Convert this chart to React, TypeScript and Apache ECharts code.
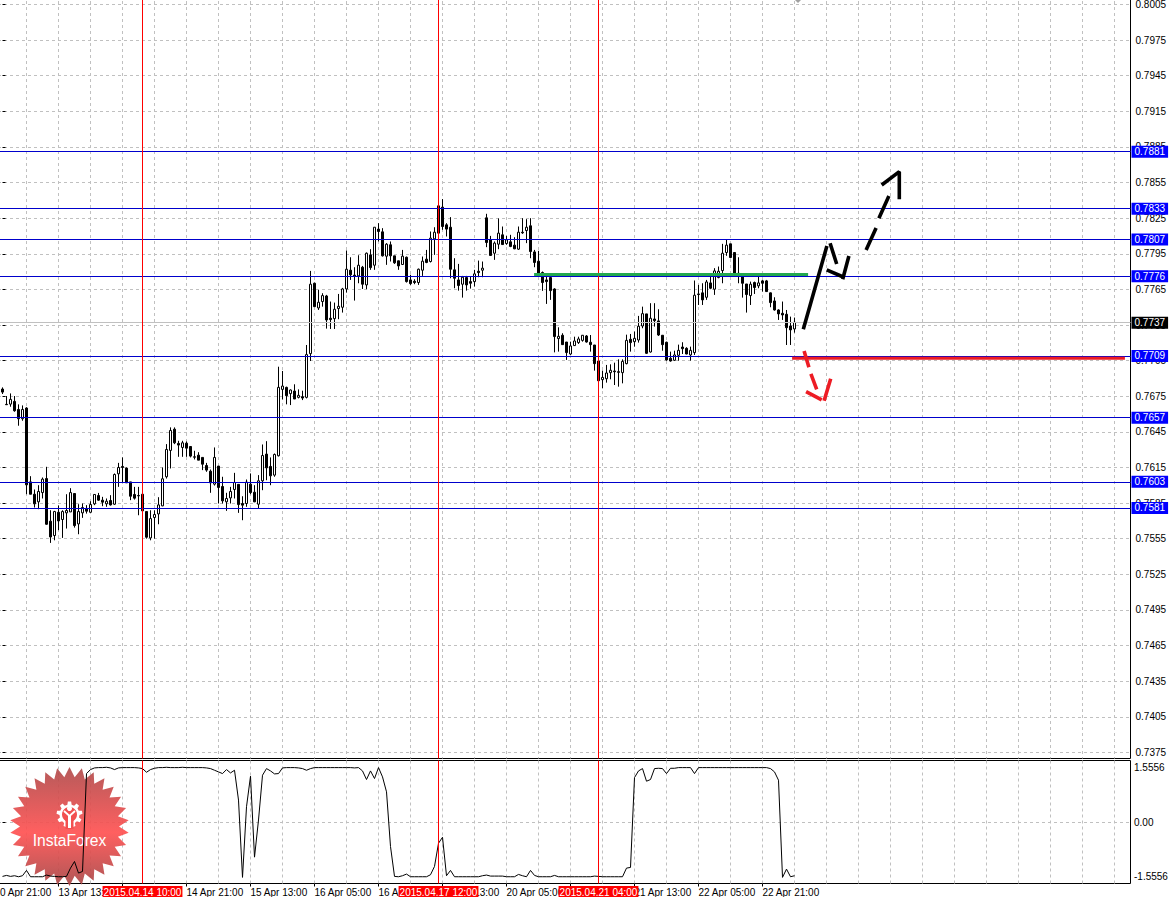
import React, { useEffect, useRef } from "react";
import * as echarts from "echarts";

// hourly candles, index 0 = 10 Apr 23:00; [open, close, low, high]
const candles: number[][] = [
[.76803,.76777,.76761,.76817],[.76674,.76671,.76671,.76744],[.76676,.76716,.76654,.76766],[.76699,.76620,.76612,.76744],[.76631,.76553,.76494,.76674],
[.76553,.76631,.76536,.76665],[.76643,.75996,.75917,.76650],[.76021,.75917,.75917,.76069],[.75917,.75836,.75805,.75957],[.75853,.75940,.75791,.75993],
[.75931,.76044,.75881,.76058],[.76049,.75664,.75659,.76148],[.75690,.75557,.75507,.75782],[.75569,.75771,.75529,.75777],[.75765,.75692,.75614,.75822],
[.75704,.75771,.75549,.75782],[.75760,.75780,.75628,.75917],[.75768,.75931,.75768,.75968],[.75923,.75653,.75636,.75923],[.75667,.75771,.75580,.75833],
[.75760,.75805,.75718,.75839],[.75797,.75774,.75754,.75825],[.75765,.75830,.75760,.75858],[.75836,.75915,.75825,.75917],[.75906,.75867,.75861,.75928],
[.75867,.75850,.75816,.75895],[.75836,.75858,.75811,.75881],[.75864,.75827,.75822,.75909],[.75833,.76083,.75827,.76092],[.76089,.76142,.75979,.76181],
[.76151,.76142,.76013,.76227],[.76137,.76013,.76013,.76142],[.76021,.75900,.75867,.76021],[.75915,.75884,.75872,.75979],[.75906,.75903,.75740,.75979],
[.75917,.75777,.75777,.75917],[.75771,.75555,.75543,.75771],[.75549,.75712,.75529,.75782],[.75721,.75746,.75543,.75782],[.75751,.75827,.75664,.75892],
[.75819,.76047,.75816,.76142],[.76064,.76294,.76049,.76339],[.76286,.76454,.76134,.76480],[.76465,.76350,.76339,.76480],[.76345,.76331,.76232,.76367],
[.76311,.76350,.76232,.76367],[.76347,.76305,.76232,.76361],[.76319,.76238,.76227,.76322],[.76232,.76229,.76210,.76283],[.76246,.76204,.76204,.76271],
[.76227,.76170,.76120,.76227],[.76159,.76120,.76106,.76181],[.76111,.76013,.75929,.76125],[.76002,.76227,.75990,.76311],[.76154,.75974,.75839,.76154],
[.75982,.75861,.75839,.76064],[.75853,.75881,.75777,.75929],[.75886,.75940,.75839,.75979],[.75957,.76016,.75881,.76097],[.76000,.75830,.75760,.76000],
[.75839,.75825,.75698,.75900],[.75839,.76019,.75811,.76041],[.76002,.75931,.75917,.76092],[.75934,.75853,.75850,.75993],[.75833,.76030,.75797,.76078],
[.76030,.76243,.75951,.76336],[.76255,.76139,.76035,.76364],[.76151,.76072,.75993,.76227],[.76078,.76252,.76064,.76260],[.76241,.76817,.76235,.76991],
[.76800,.76828,.76716,.76955],[.76817,.76747,.76674,.76823],[.76764,.76795,.76668,.76800],[.76786,.76719,.76719,.76843],[.76733,.76750,.76724,.76800],
[.76739,.76727,.76710,.76789],[.76733,.77093,.76724,.77174],[.77101,.77686,.77039,.77798],[.77694,.77497,.77497,.77700],[.77486,.77534,.77469,.77638],
[.77540,.77590,.77497,.77610],[.77587,.77385,.77312,.77596],[.77399,.77388,.77309,.77540],[.77396,.77475,.77309,.77531],[.77481,.77500,.77391,.77604],
[.77492,.77646,.77447,.77655],[.77646,.77812,.77615,.77970],[.77804,.77765,.77722,.77913],[.77762,.77756,.77548,.77829],[.77756,.77846,.77694,.77930],
[.77829,.77686,.77646,.77840],[.77680,.77947,.77644,.77953],[.77933,.77826,.77807,.77981],[.77846,.78166,.77807,.78166],[.78150,.78130,.78046,.78200],
[.78127,.77925,.77919,.78158],[.77922,.78023,.77849,.78032],[.78018,.77925,.77877,.78046],[.77925,.77866,.77857,.77925],[.77883,.77840,.77807,.77885],
[.77852,.77922,.77849,.77975],[.77913,.77708,.77700,.77919],[.77722,.77691,.77680,.77765],[.77711,.77700,.77686,.77728],[.77700,.77812,.77680,.77818],
[.77804,.77880,.77756,.77919],[.77897,.77869,.77863,.77975],[.77877,.78074,.77869,.78130],[.78068,.78124,.77933,.78166],[.78346,.78116,.78116,.78346],
[.78335,.78172,.78144,.78403],[.78186,.78150,.78088,.78200],[.78166,.77812,.77736,.78251],[.77807,.77736,.77652,.77905],[.77722,.77675,.77632,.77857],
[.77686,.77745,.77573,.77756],[.77742,.77680,.77632,.77756],[.77708,.77694,.77649,.77750],[.77708,.77773,.77666,.77807],[.77795,.77784,.77745,.77885],
[.77804,.77821,.77745,.77877],[.78245,.78037,.77998,.78279],[.78060,.77928,.77925,.78093],[.77947,.78032,.77891,.78046],[.78023,.78116,.77981,.78240],
[.78102,.78020,.78018,.78172],[.78029,.78060,.78018,.78093],[.78043,.78004,.77998,.78102],[.78015,.77984,.77981,.78082],[.77981,.78124,.77975,.78172],
[.78124,.78119,.78110,.78242],[.78138,.78166,.78032,.78234],[.78178,.77961,.77905,.78242],[.77958,.77869,.77829,.77975],[.77880,.77779,.77750,.77967],
[.77784,.77700,.77630,.77793],[.77722,.77708,.77520,.77779],[.77742,.77632,.77554,.77750],[.77646,.77245,.77112,.77652],[.77228,.77247,.77118,.77323],
[.77256,.77177,.77174,.77273],[.77199,.77110,.77048,.77199],[.77098,.77166,.77090,.77202],[.77169,.77208,.77166,.77244],[.77194,.77225,.77183,.77244],
[.77213,.77256,.77202,.77258],[.77250,.77199,.77194,.77258],[.77197,.77177,.77118,.77258],[.77174,.77017,.76958,.77174],[.77039,.76873,.76873,.77090],
[.76882,.76901,.76809,.76958],[.76890,.76938,.76857,.77006],[.76941,.76961,.76885,.77011],[.76955,.76949,.76837,.77025],[.76949,.76944,.76823,.77053],
[.76941,.77036,.76851,.77053],[.77017,.77213,.77011,.77261],[.77222,.77194,.77118,.77267],[.77202,.77230,.77160,.77287],[.77216,.77332,.77194,.77419],
[.77334,.77438,.77315,.77497],[.77436,.77104,.77098,.77436],[.77115,.77399,.77110,.77526],[.77393,.77379,.77329,.77526],[.77377,.77258,.77250,.77475],
[.77256,.77177,.77126,.77258],[.77197,.77048,.77042,.77202],[.77062,.77039,.77034,.77118],[.77045,.77090,.77039,.77126],[.77087,.77129,.77042,.77177],
[.77157,.77143,.77098,.77197],[.77146,.77098,.77096,.77155],[.77090,.77129,.77042,.77160],[.77110,.77593,.77090,.77717],[.77604,.77599,.77511,.77680],
[.77613,.77554,.77511,.77694],[.77576,.77705,.77554,.77722],[.77697,.77652,.77644,.77764],[.77644,.77798,.77596,.77821],[.77742,.77795,.77736,.77835],
[.77801,.77947,.77694,.78026],[.77953,.78015,.77925,.78065],[.78026,.77911,.77905,.78026],[.77953,.77764,.77756,.77953],[.77778,.77756,.77694,.77913],
[.77756,.77694,.77573,.77764],[.77688,.77599,.77447,.77688],[.77590,.77686,.77511,.77708],[.77700,.77658,.77604,.77708],[.77672,.77697,.77652,.77750],
[.77714,.77694,.77624,.77722],[.77714,.77624,.77621,.77722],[.77613,.77531,.77492,.77616],[.77545,.77469,.77464,.77576],[.77469,.77436,.77385,.77475],
[.77441,.77427,.77385,.77540],[.77433,.77320,.77174,.77469],[.77334,.77301,.77174,.77413],[.77309,.77365,.77278,.77405],
];
// correction of the pixel readings above against the price scale
const readingOffset = 0.00008;

const oscillator: number[] = [
-1.547,-1.519,-1.547,-1.528,-1.557,-1.528,-1.377,-1.557,-1.557,-1.557,
-1.557,-1.509,-1.538,-1.547,-1.557,-1.557,-1.547,-1.311,-1.123,-1.453,
-1.406,1.377,1.491,1.538,1.547,1.547,1.556,1.538,1.491,1.538,
1.547,1.547,1.547,1.547,1.538,1.519,1.415,1.491,1.528,1.547,
1.547,1.556,1.547,1.547,1.547,1.556,1.547,1.547,1.547,1.547,
1.547,1.538,1.519,1.472,1.425,1.377,1.491,1.396,1.472,0.623,
-1.575,0.434,1.302,-1,0.057,1.33,1.519,1.453,1.368,1.377,
1.538,1.547,1.547,1.547,1.538,1.519,1.472,1.519,1.547,1.547,
1.547,1.547,1.547,1.547,1.547,1.547,1.547,1.547,1.538,1.547,
1.453,1.208,1.453,1.236,1.547,1.283,0.858,-0.698,-1.547,-1.557,
-1.528,-1.481,-1.557,-1.557,-1.557,-1.557,-1.557,-1.5,-1.264,-0.604,
-0.434,-1.528,-1.377,-1.557,-1.557,-1.557,-1.557,-1.557,-1.557,-1.557,
-1.528,-1.509,-1.538,-1.538,-1.538,-1.538,-1.557,-1.557,-1.557,-1.491,
-1.528,-1.557,-1.377,-1.519,-1.557,-1.557,-1.557,-1.557,-1.519,-1.557,
-1.557,-1.557,-1.557,-1.557,-1.557,-1.557,-1.557,-1.557,-1.538,-1.547,
-1.557,-1.557,-1.557,-1.557,-1.557,-1.557,-1.311,-1.292,1.264,1.453,
1.519,1.16,1.208,1.519,1.528,1.519,1.377,1.528,1.528,1.547,
1.547,1.547,1.547,1.377,1.547,1.547,1.547,1.547,1.547,1.547,
1.547,1.547,1.547,1.547,1.547,1.547,1.547,1.547,1.547,1.547,
1.547,1.547,1.519,1.425,1.189,-1.575,-1.34,-1.557,-1.528,
];

const priceTicks = [0.8005,0.7975,0.7945,0.7915,0.7885,0.7855,0.7825,0.7795,0.7765,0.7735,0.7705,0.7675,0.7645,0.7615,0.7585,0.7555,0.7525,0.7495,0.7465,0.7435,0.7405,0.7375];
const oscillatorTicks = [1.5556, 0, -1.5556];

const levels = [0.7881, 0.7833, 0.7807, 0.7776, 0.7709, 0.7657, 0.7603, 0.7581];
const lastPrice = 0.7737;

const timeTickIndexes = [-2,14,30,46,62,78,94,110,126,142,158,174,190];
const timeTickLabels = ["10 Apr 21:00","13 Apr 13:00","14 Apr 05:00","14 Apr 21:00","15 Apr 13:00","16 Apr 05:00","16 Apr 21:00","17 Apr 13:00","20 Apr 05:00","20 Apr 21:00","21 Apr 13:00","22 Apr 05:00","22 Apr 21:00"];
const gridIndexes = [6,22,38,54,70,86,102,118,134,150,166,182,198,214,230,246,262,278,14,30,46,62,78,94,110,126,142,158,174,190,206,222,238,254,270];

const eventIndexes = [35, 109, 149];
const eventLabels = ["2015.04.14 10:00", "2015.04.17 12:00", "2015.04.21 04:00"];

// hand-drawn forecast strokes, [bar index, price]; null ends a stroke
const blackStrokes: (number[] | null)[] = [
  [200.2,.77314],[206.1,.78016],null,[206.9,.78039],[208.55,.77864],null,
  [206.05,.77814],[210.05,.77757],null,[210.05,.77736],[211.6,.77932],null,
  [215.9,.77982],[218.4,.78168],null,[219.1,.78249],[221.6,.78437],null,
  [219.8,.7853],[224.2,.78642],[224.2,.78409],
];
const redStrokes: (number[] | null)[] = [
  [200.4,.77132],[201.6,.76994],null,[202.1,.76938],[203.55,.76809],null,
  [200.9,.76789],[204.8,.76719],null,[207.05,.76898],[205.4,.76713],
];
const supportLine = [[197.4,.7707],[280.6,.7707]];
const resistanceLine = [[132.9,.77776],[201.4,.77776]];

const FONT = "Liberation Sans";
const dashed = { color: "#c0c0c0", width: 1, type: [3, 3] as number[] };

function withBreaks(points: (number[] | null)[]) {
  return points.map((p) => (p ? p : ["-", "-"]));
}

function star(cx: number, cy: number, rOut: number, rIn: number, n: number) {
  const pts: number[][] = [];
  for (let k = 0; k < n * 2; k++) {
    const r = k % 2 === 0 ? rOut : rIn;
    const a = (Math.PI * k) / n - Math.PI / 2;
    pts.push([cx + r * Math.cos(a), cy + r * Math.sin(a)]);
  }
  return pts;
}

function gear(cx: number, cy: number, rOut: number, rIn: number, n: number) {
  const pts: number[][] = [];
  const w = Math.PI / n;
  for (let k = 0; k < n; k++) {
    const a = (2 * Math.PI * k) / n - Math.PI / 2;
    pts.push([cx + rIn * Math.cos(a - w * 0.62), cy + rIn * Math.sin(a - w * 0.62)]);
    pts.push([cx + rOut * Math.cos(a - w * 0.36), cy + rOut * Math.sin(a - w * 0.36)]);
    pts.push([cx + rOut * Math.cos(a + w * 0.36), cy + rOut * Math.sin(a + w * 0.36)]);
    pts.push([cx + rIn * Math.cos(a + w * 0.62), cy + rIn * Math.sin(a + w * 0.62)]);
  }
  return pts;
}

export default function App() {
  const ref = useRef<HTMLDivElement>(null);
  useEffect(() => {
    document.body.style.margin = "0";
    const chart = echarts.init(ref.current!, undefined, { renderer: "svg" });
    const xBase = { type: "value", min: -2.625, max: 282 };
    const tagLabel = (bg: string) => ({
      show: true,
      position: "end",
      distance: 1,
      formatter: (p: any) => Number(p.value).toFixed(4),
      color: "#fff",
      backgroundColor: bg,
      padding: [1, 3, 1, 3],
      fontFamily: FONT,
      fontSize: 10,
    });
    chart.setOption({
      animation: false,
      backgroundColor: "#fff",
      grid: [
        { left: -8, width: 1138.5, top: -5, height: 763.5, show: true, borderColor: "#000", borderWidth: 1, containLabel: false, outerBoundsMode: "none" },
        { left: -8, width: 1138.5, top: 760.5, height: 123, show: true, borderColor: "#000", borderWidth: 1, containLabel: false, outerBoundsMode: "none" },
      ],
      xAxis: [
        { ...xBase, gridIndex: 0, position: "bottom", axisLine: { show: false }, axisLabel: { show: false },
          axisTick: { show: false, customValues: gridIndexes }, splitLine: { show: true, lineStyle: dashed } },
        { ...xBase, gridIndex: 1, position: "bottom", axisLine: { show: false }, axisLabel: { show: false },
          axisTick: { show: false, customValues: gridIndexes }, splitLine: { show: true, lineStyle: dashed } },
        { ...xBase, gridIndex: 1, position: "bottom", axisLine: { show: false }, splitLine: { show: false },
          axisTick: { show: true, length: 3, inside: false, customValues: timeTickIndexes, lineStyle: { color: "#000" } },
          axisLabel: { show: true, customValues: timeTickIndexes, align: "left", margin: 4, color: "#000", fontFamily: FONT, fontSize: 10,
            showMinLabel: true, showMaxLabel: true, hideOverlap: false,
            formatter: (v: number) => timeTickLabels[timeTickIndexes.indexOf(v)] ?? "" } },
      ],
      yAxis: [
        { type: "value", gridIndex: 0, position: "right", min: 0.73699, max: 0.8013, scale: true,
          axisLine: { show: false },
          axisTick: { show: true, length: 3, customValues: priceTicks, lineStyle: { color: "#000" } },
          axisLabel: { show: true, customValues: priceTicks, margin: 5, color: "#000", fontFamily: FONT, fontSize: 10,
            formatter: (v: number) => v.toFixed(4) },
          splitLine: { show: true, lineStyle: dashed } },
        { type: "value", gridIndex: 1, position: "right", min: -1.749, max: 1.749,
          axisLine: { show: false },
          axisTick: { show: true, length: 3, customValues: [0], lineStyle: { color: "#000" } },
          axisLabel: { show: true, customValues: oscillatorTicks, margin: 3.5, color: "#000", fontFamily: FONT, fontSize: 10,
            formatter: (v: number) => (v === 0 ? "0.00" : v.toFixed(4)) },
          splitLine: { show: true, lineStyle: dashed } },
      ],
      graphic: [
        { type: "polygon", silent: true, z: 1, style: { fill: "#a0a0a0" }, shape: { points: [[795, 0], [801, 0], [798, 3]] } },
        { type: "polygon", silent: true, z: 1, style: { opacity: 0.92,
            fill: { type: "linear", x: 0, y: 0, x2: 0, y2: 1, colorStops: [
              { offset: 0, color: "#b04c4c" }, { offset: 0.55, color: "#ff5252" }, { offset: 1, color: "#a84848" } ] } },
          shape: { points: star(69.5, 826.5, 59.5, 49.5, 30) } },
        { type: "polygon", silent: true, z: 1, style: { fill: "#fff" }, shape: { points: gear(69.5, 814.5, 13, 10, 9) } },
        { type: "circle", silent: true, z: 1, style: { fill: "#f25050" }, shape: { cx: 69.5, cy: 814.5, r: 7.5 } },
        { type: "rect", silent: true, z: 1, style: { fill: "#f25050" }, shape: { x: 65.5, y: 818, width: 8, height: 11 } },
        { type: "circle", silent: true, z: 1, style: { fill: "#fff" }, shape: { cx: 69.5, cy: 808.5, r: 2.5 } },
        { type: "polyline", silent: true, z: 1, style: { stroke: "#fff", lineWidth: 1.8, fill: "none" }, shape: { points: [[64, 811], [69.5, 816], [75, 811]] } },
        { type: "line", silent: true, z: 1, style: { stroke: "#fff", lineWidth: 3 }, shape: { x1: 69.5, y1: 815, x2: 69.5, y2: 828 } },
        { type: "text", silent: true, z: 1, x: 69.5, y: 840, style: { text: "InstaForex", fill: "#fff", font: `15.6px ${FONT}`, textAlign: "center", textVerticalAlign: "middle" } },
      ],
      series: [
        {
          type: "candlestick", xAxisIndex: 0, yAxisIndex: 0, barWidth: 2, z: 3,
          encode: { x: 0, y: [1, 2, 3, 4] },
          data: candles.map((c, i) => [i, ...c.map((v) => v + readingOffset)]),
          itemStyle: { color: "#fff", color0: "#000", borderColor: "#000", borderColor0: "#000", borderWidth: 1 },
          markLine: {
            symbol: "none", silent: true, animation: false, precision: 4, z: 5,
            data: [
              ...levels.map((v) => ({ yAxis: v, lineStyle: { color: "#0000cc", width: 1, type: "solid" }, label: tagLabel("#0000ff") })),
              { yAxis: lastPrice, lineStyle: { color: "#c0c0c0", width: 1, type: "solid" }, label: tagLabel("#000") },
              ...eventIndexes.map((v) => ({ xAxis: v, lineStyle: { color: "#ff0000", width: 1, type: "solid" }, label: { show: false } })),
            ],
          },
        },
        { type: "line", xAxisIndex: 0, yAxisIndex: 0, z: 6, data: resistanceLine, showSymbol: false, symbol: "none", silent: true, lineStyle: { color: "#22a84f", width: 3 } },
        { type: "line", xAxisIndex: 0, yAxisIndex: 0, z: 6, data: supportLine, showSymbol: false, symbol: "none", silent: true, lineStyle: { color: "#ed1c24", width: 3 } },
        { type: "line", xAxisIndex: 0, yAxisIndex: 0, z: 6, data: withBreaks(blackStrokes), connectNulls: false, showSymbol: false, symbol: "none", silent: true, lineStyle: { color: "#000", width: 3.6 } },
        { type: "line", xAxisIndex: 0, yAxisIndex: 0, z: 6, data: withBreaks(redStrokes), connectNulls: false, showSymbol: false, symbol: "none", silent: true, lineStyle: { color: "#ed1c24", width: 3.6 } },
        {
          type: "line", xAxisIndex: 1, yAxisIndex: 1, z: 3,
          data: oscillator.map((v, i) => [i, v]), showSymbol: false, symbol: "none", silent: true,
          lineStyle: { color: "#000", width: 1 },
          markLine: {
            symbol: "none", silent: true, animation: false, z: 6,
            data: eventIndexes.map((v, k) => ({
              xAxis: v, lineStyle: { color: "#ff0000", width: 1, type: "solid" },
              label: { show: true, position: "start", distance: 2.5, formatter: eventLabels[k], color: "#fff", backgroundColor: "#ff0000", padding: [1, 1, 1, 1], fontFamily: FONT, fontSize: 10 },
            })),
          },
        },
      ],
    });
    return () => chart.dispose();
  }, []);
  return <div ref={ref} style={{ position: "absolute", left: 0, top: 0, width: 1172, height: 897 }} />;
}
